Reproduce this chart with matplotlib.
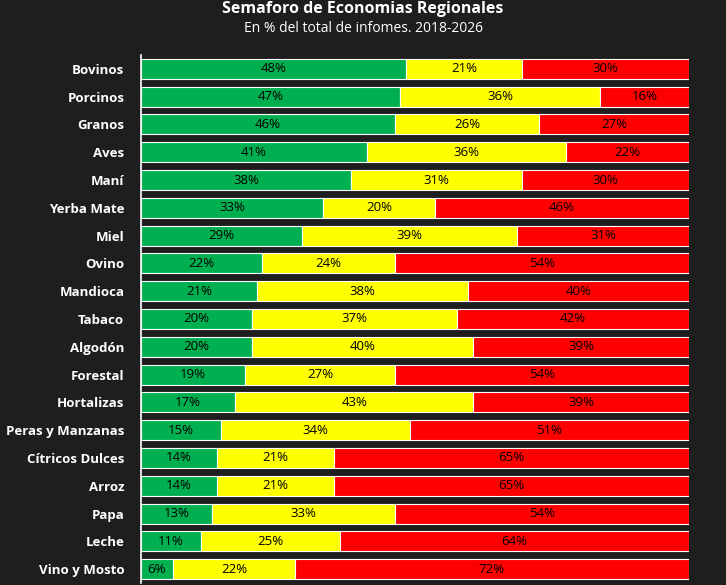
import matplotlib
matplotlib.use("Agg")
import matplotlib.pyplot as plt
import numpy as np

plt.rcParams['font.family'] = ['Open Sans', 'DejaVu Sans']

categories = ["Bovinos", "Porcinos", "Granos", "Aves", "Maní", "Yerba Mate", "Miel", "Ovino",
              "Mandioca", "Tabaco", "Algodón", "Forestal", "Hortalizas", "Peras y Manzanas",
              "Cítricos Dulces", "Arroz", "Papa", "Leche", "Vino y Mosto"]
verde = [48.4, 47.3, 46.4, 41.2, 38.3, 33.2, 29.4, 22.1, 21.2, 20.2, 20.2, 19.0, 17.2, 14.6, 13.9, 13.9, 13.0, 10.9, 5.8]
amarillo = [21.2, 36.4, 26.2, 36.4, 31.3, 20.4, 39.2, 24.3, 38.4, 37.4, 40.4, 27.4, 43.4, 34.4, 21.3, 21.3, 33.4, 25.4, 22.3]
rojo = [30.4, 16.3, 27.4, 22.4, 30.4, 46.4, 31.4, 53.6, 40.4, 42.4, 39.4, 53.6, 39.4, 51.0, 64.8, 64.8, 53.6, 63.7, 71.9]

bg = "#1e1e1e"
fig = plt.figure(figsize=(7.26, 5.85), dpi=100, facecolor=bg)
ax = fig.add_axes([141/726, 2/585, 548/726, 528/585], facecolor=bg)

y = np.arange(len(categories))
left = np.zeros(len(categories))
for vals, col in [(verde, "#00b050"), (amarillo, "#ffff00"), (rojo, "#ff0000")]:
    vals = np.array(vals)
    ax.barh(y, vals, left=left, height=0.72, color=col, edgecolor="white", linewidth=0.8)
    for yi, l, v in zip(y, left, vals):
        ax.text(l + v/2, yi, f"{v:.0f}%", ha="center", va="center", fontsize=9.5, color="black")
    left = left + vals

ax.set_xlim(0, 100)
ax.set_ylim(len(categories) - 0.5, -0.5)
ax.set_yticks(y)
ax.set_yticklabels(categories, color="white", fontsize=9.5, fontweight="bold")
ax.tick_params(axis="y", length=0, pad=12)
ax.set_xticks([])
for s in ["top", "right", "bottom"]:
    ax.spines[s].set_visible(False)
ax.spines["left"].set_color("white")
ax.spines["left"].set_linewidth(1.2)

fig.text(0.5, 1 - 9/585, "Semaforo de Economias Regionales", ha="center", va="center",
         color="white", fontsize=11.5, fontweight="bold")
fig.text(0.5, 1 - 29/585, "En % del total de infomes. 2018-2026", ha="center", va="center",
         color="white", fontsize=10)

fig.savefig("out.png", dpi=100, facecolor=bg)
